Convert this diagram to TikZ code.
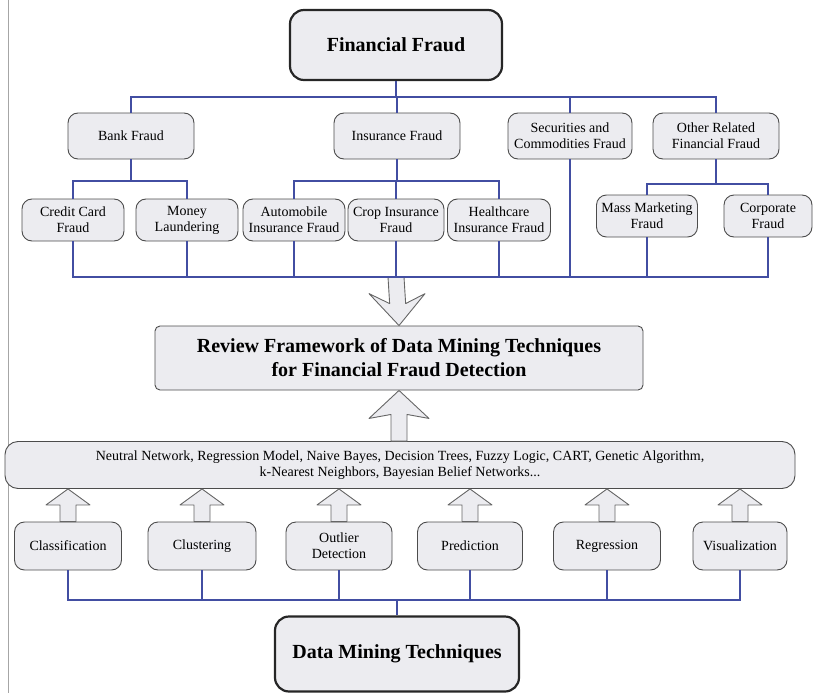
\documentclass[tikz,border=0pt]{standalone}
\usepackage{fontspec}
\setmainfont{Liberation Serif}
\usetikzlibrary{calc}
\definecolor{linkblue}{RGB}{66,78,162}
\definecolor{boxgray}{RGB}{236,236,240}
% hollow block arrow: #1 tail, #2 tip, #3 head length, #4 half head width, #5 barb sweep
\newcommand{\fatarrow}[5]{%
  \path (#1) coordinate (fa1) (#2) coordinate (fa2);
  \draw [fatarr] ($(fa1)+(-8,0)$) -- ($(fa2)!#3pt!(fa1)+(-8,0)$) -- ($(fa2)!#3pt+#5pt!(fa1)+(-#4,0)$)
    -- (fa2) -- ($(fa2)!#3pt+#5pt!(fa1)+(#4,0)$) -- ($(fa2)!#3pt!(fa1)+(8,0)$) -- ($(fa1)+(8,0)$) -- cycle;}
\begin{document}
\begin{tikzpicture}[x=1pt,y=-1pt,
  topbox/.style={draw=black!85,line width=2.2pt,fill=boxgray,rounded corners=14pt,align=center,font=\fontsize{20}{24}\selectfont\bfseries},
  subbox/.style={draw=black!70,line width=0.9pt,fill=boxgray,rounded corners=10pt,align=center,inner sep=2pt,minimum height=42pt,font=\fontsize{14}{16}\selectfont},
  link/.style={draw=linkblue,line width=1.3pt},
  fatarr/.style={draw=black!60,line width=0.9pt,fill=boxgray,line join=round}]
\useasboundingbox (0,0) rectangle (814,693);
\draw [black!35,line width=0.8pt] (8,0)--(8,693);

% fraud tree
\node (ff) [topbox,minimum width=212pt,minimum height=70pt] at (396,45) {Financial Fraud};
\node (bank) [subbox,minimum width=126pt,minimum height=46pt] at (131,136) {Bank Fraud};
\node (ins) [subbox,minimum width=126pt,minimum height=46pt] at (397,136) {Insurance Fraud};
\node (sec) [subbox,minimum width=124pt,minimum height=46pt] at (570,136) {Securities and\\Commodities Fraud};
\node (oth) [subbox,minimum width=126pt,minimum height=46pt] at (716,136) {Other Related\\Financial Fraud};

\node (cc) [subbox,minimum width=102pt] at (73,220) {Credit Card\\Fraud};
\node (ml) [subbox,minimum width=102pt] at (187,220) {Money\\Laundering};
\node (auto) [subbox,minimum width=102pt] at (294,220) {Automobile\\Insurance Fraud};
\node (crop) [subbox,minimum width=96pt] at (396,220) {Crop Insurance\\Fraud};
\node (hc) [subbox,minimum width=103pt] at (499,220) {Healthcare\\Insurance Fraud};
\node (mm) [subbox,minimum width=101pt] at (647,216) {Mass Marketing\\Fraud};
\node (corp) [subbox,minimum width=88pt] at (768,216) {Corporate\\Fraud};

\coordinate (bus1) at (0,97);
\coordinate (bus2) at (0,181);
\coordinate (bus3) at (0,277);
\foreach \n in {bank,ins,sec,oth} \draw [link] (ff.south) |- (\n.north |- bus1) -- (\n.north);
\foreach \n in {cc,ml} \draw [link] (bank.south) |- (\n.north |- bus2) -- (\n.north);
\foreach \n in {auto,crop,hc} \draw [link] (ins.south) |- (\n.north |- bus2) -- (\n.north);
\foreach \n in {mm,corp} \draw [link] (oth.south) |- ($(\n.north |- bus2)+(0,3)$) -- (\n.north);

% review framework
\node (rev) [subbox,rounded corners=5pt,minimum width=488pt,minimum height=64pt,font=\fontsize{20}{24}\selectfont\bfseries] at (399,358)
  {Review Framework of Data Mining Techniques\\for Financial Fraud Detection};
\fatarrow{crop.south |- bus3}{rev.north}{22}{28}{10}
\foreach \n in {cc,ml,auto,crop,hc,sec,mm,corp} \draw [link] (\n.south) |- (crop.south |- bus3);

% techniques
\node (tech) [subbox,rounded corners=13pt,minimum width=790pt,minimum height=47pt,font=\fontsize{14}{16}\selectfont] at (400,465)
  {Neutral Network, Regression Model, Naive Bayes, Decision Trees, Fuzzy Logic, CART, Genetic Algorithm,\\k-Nearest Neighbors, Bayesian Belief Networks...};
\fatarrow{rev.south |- tech.north}{rev.south}{24}{30}{4}

\node (cls) [subbox,minimum width=107pt,minimum height=48pt] at (68,546) {Classification};
\node (clu) [subbox,minimum width=108pt,minimum height=48pt] at (202,546) {Clustering};
\node (out) [subbox,minimum width=106pt,minimum height=48pt] at (339,546) {Outlier\\Detection};
\node (pre) [subbox,minimum width=105pt,minimum height=48pt] at (470,546) {Prediction};
\node (reg) [subbox,minimum width=107pt,minimum height=48pt] at (607,546) {Regression};
\node (vis) [subbox,minimum width=94pt,minimum height=48pt] at (740,546) {Visualization};
\foreach \n in {cls,clu,out,pre,reg,vis} \fatarrow{\n.north}{\n.north |- tech.south}{16}{22}{0};

% data mining
\node (dmt) [topbox,minimum width=244pt,minimum height=75pt] at (397,654) {Data Mining Techniques};
\coordinate (bus4) at (0,600);
\foreach \n in {cls,clu,out,pre,reg,vis} \draw [link] (\n.south) |- (dmt.north |- bus4) -- (dmt.north);
\end{tikzpicture}
\end{document}
